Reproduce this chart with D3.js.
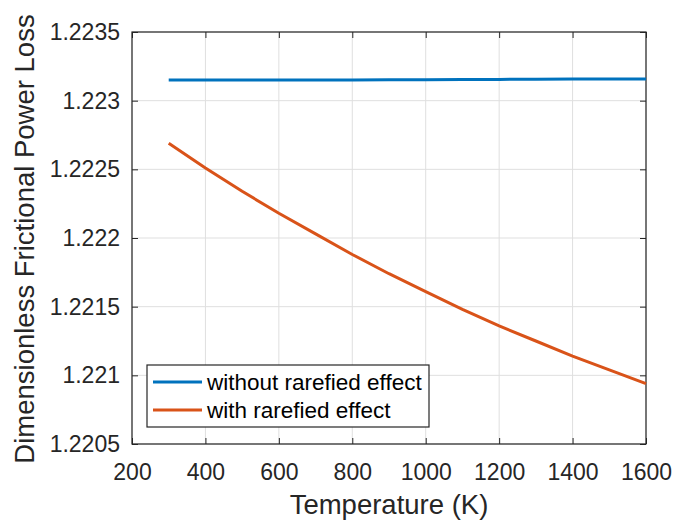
<!DOCTYPE html>
<html>
<head>
<meta charset="utf-8">
<script src="https://cdn.jsdelivr.net/npm/d3@7"></script>
<style>
  body { margin: 0; background: #fff; }
  svg { font-family: "Liberation Sans", Arial, sans-serif; }
</style>
</head>
<body>
<svg id="chart" width="676" height="525"></svg>
<script>
// temperatures (K)
const temps = [300, 400, 500, 600, 700, 800, 900, 1000, 1100, 1200, 1300, 1400, 1500, 1600];
// dimensionless frictional power loss
const withoutRarefied = [1.22315, 1.22315, 1.22315, 1.22315, 1.22315, 1.22315, 1.223152, 1.223153, 1.223154, 1.223155, 1.223156, 1.223157, 1.223158, 1.223158];
const withRarefied = [1.22269, 1.22251, 1.22234, 1.22218, 1.22203, 1.22188, 1.22174, 1.22161, 1.22148, 1.22136, 1.22125, 1.22114, 1.22104, 1.22094];
const seriesNames = ["without rarefied effect", "with rarefied effect"];
const xTicks = [200, 400, 600, 800, 1000, 1200, 1400, 1600];
const yTicks = [1.2205, 1.221, 1.2215, 1.222, 1.2225, 1.223, 1.2235];

const colors = ["#0072BD", "#D95319"];
const margin = { left: 132, top: 32, right: 676 - 646, bottom: 525 - 444 };
const width = 676 - margin.left - margin.right;
const height = 525 - margin.top - margin.bottom;

const svg = d3.select("#chart");
const g = svg.append("g").attr("transform", `translate(${margin.left},${margin.top})`);

const x = d3.scaleLinear().domain([200, 1600]).range([0, width]);
const y = d3.scaleLinear().domain([1.2205, 1.2235]).range([height, 0]);

// grid
g.append("g").selectAll("line").data(xTicks).join("line")
    .attr("x1", d => x(d)).attr("x2", d => x(d))
    .attr("y1", 0).attr("y2", height)
    .attr("stroke", "#dfdfdf").attr("stroke-width", 1);
g.append("g").selectAll("line").data(yTicks).join("line")
    .attr("y1", d => y(d)).attr("y2", d => y(d))
    .attr("x1", 0).attr("x2", width)
    .attr("stroke", "#dfdfdf").attr("stroke-width", 1);

// axes (ticks inward, box on)
const fmtY = d => String(+d.toFixed(4));
const axisStyle = sel => {
    sel.select(".domain").remove();
    sel.selectAll(".tick line").attr("stroke", "#262626");
    sel.selectAll(".tick text").attr("fill", "#262626").style("font-size", "23px");
};
g.append("g").attr("transform", `translate(0,${height})`)
    .call(d3.axisBottom(x).tickValues(xTicks).tickSize(-6).tickPadding(20).tickFormat(d3.format("d")))
    .call(axisStyle);
g.append("g")
    .call(d3.axisTop(x).tickValues(xTicks).tickSize(-6).tickFormat(""))
    .call(axisStyle);
g.append("g")
    .call(d3.axisLeft(y).tickValues(yTicks).tickSize(-6).tickPadding(12).tickFormat(fmtY))
    .call(axisStyle);
g.append("g").attr("transform", `translate(${width},0)`)
    .call(d3.axisRight(y).tickValues(yTicks).tickSize(-6).tickFormat(""))
    .call(axisStyle);

g.append("rect").attr("width", width).attr("height", height)
    .attr("fill", "none").attr("stroke", "#262626").attr("stroke-width", 1.2);

// lines
const line = d3.line().x(d => x(d[0])).y(d => y(d[1]));
[withoutRarefied, withRarefied].forEach((vals, i) => {
    g.append("path")
        .datum(temps.map((t, j) => [t, vals[j]]))
        .attr("d", line)
        .attr("fill", "none")
        .attr("stroke", colors[i])
        .attr("stroke-width", 3);
});

// legend
const leg = g.append("g").attr("transform", `translate(15,333)`);
leg.append("rect").attr("width", 282).attr("height", 62)
    .attr("fill", "#fff").attr("stroke", "#262626").attr("stroke-width", 1.2);
seriesNames.forEach((name, i) => {
    const ly = 17 + i * 28;
    leg.append("line").attr("x1", 6).attr("x2", 55).attr("y1", ly).attr("y2", ly)
        .attr("stroke", colors[i]).attr("stroke-width", 3);
    leg.append("text").attr("x", 60).attr("y", ly).attr("dy", "0.35em")
        .attr("fill", "#000").style("font-size", "22.5px").text(name);
});

// axis labels
svg.append("text")
    .attr("x", margin.left + width / 2).attr("y", 514)
    .attr("text-anchor", "middle").attr("fill", "#262626")
    .style("font-size", "27.5px").text("Temperature (K)");
svg.append("text")
    .attr("transform", `translate(34,${margin.top + height / 2 + 1}) rotate(-90)`)
    .attr("text-anchor", "middle").attr("fill", "#262626")
    .style("font-size", "27.5px").text("Dimensionless Frictional Power Loss");
</script>
</body>
</html>
